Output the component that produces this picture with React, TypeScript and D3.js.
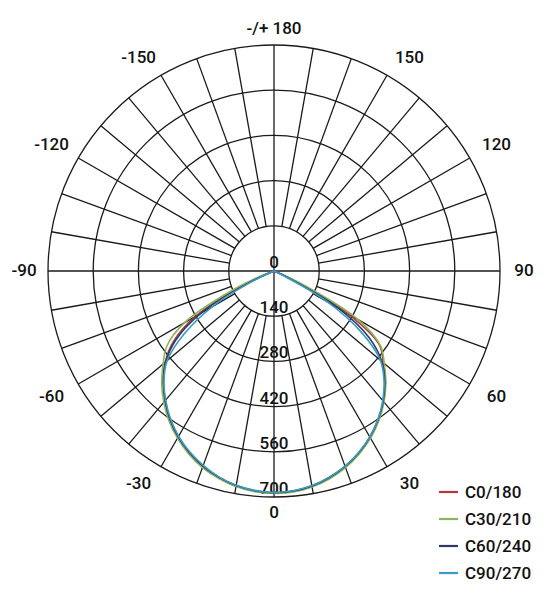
import * as d3 from 'd3';

// gamma angles (deg), 0 = straight down
const gammaAngles = [
  -90, -85, -80, -75, -70, -65, -60, -55, -50, -45, -40, -35, -30, -25, -20, -15, -10, -5, 0,
  5, 10, 15, 20, 25, 30, 35, 40, 45, 50, 55, 60, 65, 70, 75, 80, 85, 90,
];

const c0Values = [
  0, 0, 0, 0, 0, 100, 280, 380, 440, 486, 526, 563, 595, 622, 645, 663, 676, 684, 688,
  685, 677, 664, 646, 623, 596, 564, 528, 488, 442, 398, 265, 60, 0, 0, 0, 0, 0,
];
const c30Values = [
  0, 0, 0, 0, 30, 150, 320, 405, 448, 492, 531, 567, 598, 625, 648, 665, 678, 686, 689,
  687, 679, 666, 648, 625, 598, 566, 530, 490, 446, 402, 300, 90, 0, 0, 0, 0, 0,
];
const c60Values = [
  0, 0, 0, 0, 0, 80, 260, 370, 438, 484, 524, 561, 593, 620, 643, 661, 675, 683, 687,
  684, 676, 662, 644, 621, 594, 562, 526, 485, 436, 360, 230, 40, 0, 0, 0, 0, 0,
];
const c90Values = [
  0, 0, 0, 0, 0, 60, 220, 340, 432, 482, 522, 559, 591, 618, 641, 660, 674, 682, 686,
  683, 675, 661, 643, 620, 593, 561, 524, 482, 430, 330, 190, 20, 0, 0, 0, 0, 0,
];

const seriesNames = ['C0/180', 'C30/210', 'C60/240', 'C90/270'];
const seriesColors = ['#b5383c', '#8ab55a', '#2f3a6b', '#3a9cc4'];
const seriesValues = [c0Values, c30Values, c60Values, c90Values];

const radialTicks = [0, 140, 280, 420, 560, 700];
const angleTicks = [180, 150, 120, 90, 60, 30, 0, -30, -60, -90, -120, -150];

const cx = 274;
const cy = 271;
const outerR = 226;

export default function App() {
  const r = d3.scaleLinear().domain([0, 700]).range([0, outerR]);
  const rad = (deg: number) => (deg * Math.PI) / 180;

  // angle for lineRadial: clockwise from 12 o'clock, so flip by 180
  const line = d3
    .lineRadial<number>()
    .angle((_, i) => Math.PI - rad(gammaAngles[i]))
    .radius((v) => r(v))
    .curve(d3.curveCatmullRom.alpha(0.5));

  const spokes = [];
  for (let a = 0; a < 360; a += 10) {
    const inner = a % 90 === 0 ? 0 : r(140);
    const s = Math.sin(rad(a));
    const c = Math.cos(rad(a));
    spokes.push(
      <line
        key={`spoke${a}`}
        x1={inner * s}
        y1={inner * c}
        x2={outerR * s}
        y2={outerR * c}
      />
    );
  }

  const rings = radialTicks
    .filter((t) => t > 0)
    .map((t) => <circle key={`ring${t}`} r={r(t)} fill='none' />);

  const textStyle = {
    fontFamily: 'Roboto, sans-serif',
    fontWeight: 500,
    fontSize: 17,
    fill: '#111',
  };

  const angleLabels = angleTicks.map((t) => {
    let s = Math.sin(rad(t));
    let c = Math.cos(rad(t));
    if (Math.abs(s) < 1e-9) s = 0;
    if (Math.abs(c) < 1e-9) c = 0;
    // push the label box away from the ring on diagonals
    const x = 250 * s + 12 * Math.sign(s) * Math.abs(c);
    const y = 242 * c + 6 * Math.sign(c) * Math.abs(s) - 1;
    const label = t === 180 ? '-/+ 180' : String(t);
    return (
      <text key={`ang${t}`} x={x} y={y} textAnchor='middle' dominantBaseline='central'>
        {label}
      </text>
    );
  });

  const radialLabels = radialTicks.map((t) => (
    <text key={`rl${t}`} x={0} y={r(t) - 3} textAnchor='middle'>
      {t}
    </text>
  ));

  const curves = seriesValues.map((vals, i) => (
    <path key={`curve${i}`} d={line(vals) || ''} fill='none' stroke={seriesColors[i]} strokeWidth={1.6} />
  ));

  const legend = seriesNames.map((name, i) => (
    <g key={`leg${i}`} transform={`translate(439, ${492 + i * 27})`}>
      <line x1={0} x2={19} y1={0} y2={0} stroke={seriesColors[i]} strokeWidth={2.2} />
      <text x={26} y={0} dominantBaseline='central' style={textStyle}>
        {name}
      </text>
    </g>
  ));

  return (
    <svg
      width={556}
      height={600}
      style={{ position: 'absolute', left: 0, top: 0, background: '#fff' }}
    >
      <g transform={`translate(${cx}, ${cy})`}>
        <g stroke='#1a1a1a' strokeWidth={1.3}>
          {rings}
          {spokes}
        </g>
        <g style={textStyle}>{radialLabels}</g>
        <g>{curves}</g>
        <g style={textStyle}>{angleLabels}</g>
      </g>
      {legend}
    </svg>
  );
}
